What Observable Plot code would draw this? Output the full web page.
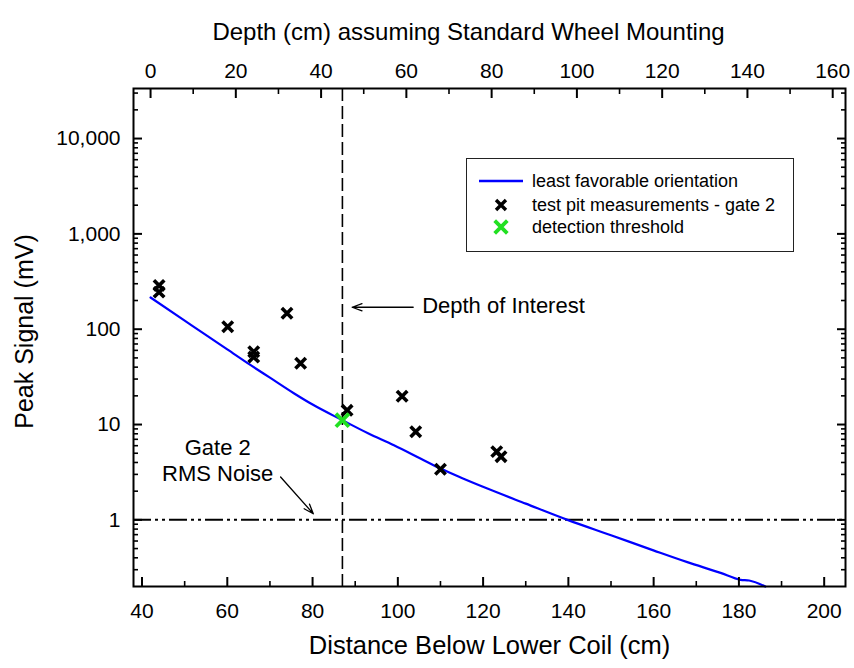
<!DOCTYPE html>
<html>
<head>
<meta charset="utf-8">
<script src="https://cdn.jsdelivr.net/npm/d3@7"></script>
<script src="https://cdn.jsdelivr.net/npm/@observablehq/plot@0.6"></script>
<style>
  body { margin: 0; background: #fff; }
  #wrap { position: relative; width: 854px; height: 668px; font-family: "Liberation Sans", Arial, Helvetica, sans-serif; }
  #legend { position: absolute; left: 466px; top: 158px; width: 328px; height: 94px; box-sizing: border-box; border: 1px solid #222; background: #fff; }
</style>
</head>
<body>
<div id="wrap"><div id="legend"></div></div>
<script>
// ---- data ----
const curveDistance = [42, 50, 55.3, 60, 65.4, 70, 75.6, 80, 87, 93, 99.1, 105.3, 110, 115, 121, 130, 139.8, 150, 160.1, 167.9, 175.7, 180.4, 182.4, 186.2];
const curveSignal   = [215, 123, 85, 61.4, 42.2, 31, 21.3, 16.2, 11.1, 8.1, 6.06, 4.4, 3.45, 2.75, 2.13, 1.48, 1.0, 0.69, 0.476, 0.36, 0.278, 0.235, 0.231, 0.2];

const pitDistance = [44, 44, 60.1, 66.2, 66.2, 74.0, 77.2, 88.1, 101.0, 104.2, 110.0, 123.2, 124.2];
const pitSignal   = [288, 245, 106, 58, 51, 147, 44, 14.1, 19.8, 8.4, 3.4, 5.2, 4.6];

const thresholdDistance = [87];
const thresholdSignal   = [11.1];

const depthOfInterest = [87];
const noiseLevel = [1];
const wheelOffset = 42;

const xMajorTicks = [40, 60, 80, 100, 120, 140, 160, 180, 200];
const xMinorTicks = [50, 70, 90, 110, 130, 150, 170, 190];
const depthMajorTicks = [0, 20, 40, 60, 80, 100, 120, 140, 160];
const depthMinorTicks = [10, 30, 50, 70, 90, 110, 130, 150];
const yMajorTicks = [1, 10, 100, 1000, 10000];
const yMinorTicks = [0.3, 0.4, 0.5, 0.6, 0.7, 0.8, 0.9,
  2, 3, 4, 5, 6, 7, 8, 9,
  20, 30, 40, 50, 60, 70, 80, 90,
  200, 300, 400, 500, 600, 700, 800, 900,
  2000, 3000, 4000, 5000, 6000, 7000, 8000, 9000,
  20000, 30000];

const legendLabels = ["least favorable orientation", "test pit measurements - gate 2", "detection threshold"];

// ---- build ----
const fontFamily = '"Liberation Sans", Arial, Helvetica, sans-serif';
const curve = curveDistance.map((d, i) => ({x: d, y: curveSignal[i]}));
const pits = pitDistance.map((d, i) => ({x: d, y: pitSignal[i]}));
const thr = thresholdDistance.map((d, i) => ({x: d, y: thresholdSignal[i]}));
const blue = "#0000ff";
const green = "#22e022";

const chart = Plot.plot({
  width: 854,
  height: 668,
  marginLeft: 133,
  marginRight: 9,
  marginTop: 88,
  marginBottom: 82,
  style: {fontFamily, fontSize: "21px", color: "#000", background: "transparent", overflow: "visible"},
  x: {type: "linear", domain: [38, 205]},
  y: {type: "log", domain: [0.2, 33500]},
  marks: [
    Plot.ruleX(depthOfInterest, {x: d => d, stroke: "#000", strokeWidth: 1.6, strokeDasharray: "13,5"}),
    Plot.ruleY(noiseLevel, {y: d => d, stroke: "#000", strokeWidth: 2, strokeDasharray: "18,4,3,4,3,4"}),
    Plot.line(curve, {x: "x", y: "y", stroke: blue, strokeWidth: 2.2, curve: "monotone-x"}),
    Plot.dot(pits, {x: "x", y: "y", symbol: "times", r: 4.8, stroke: "#000", strokeWidth: 3.6}),
    Plot.dot(thr, {x: "x", y: "y", symbol: "times", r: 6, stroke: green, strokeWidth: 3.8}),

    // annotations
    Plot.arrow([{x1: 103.6, y1: 170, x2: 89.3, y2: 170}], {x1: "x1", y1: "y1", x2: "x2", y2: "y2", stroke: "#000", strokeWidth: 1.3, headLength: 12, headAngle: 40}),
    Plot.text([{x: 105.7, y: 176, t: "Depth of Interest"}], {x: "x", y: "y", text: "t", textAnchor: "start", fontSize: 22}),
    Plot.text([{x: 57.75, y: 5.66, t: "Gate 2"}, {x: 57.75, y: 3.03, t: "RMS Noise"}], {x: "x", y: "y", text: "t", fontSize: 22}),
    Plot.arrow([{x1: 72.5, y1: 2.82, x2: 80.17, y2: 1.16}], {x1: "x1", y1: "y1", x2: "x2", y2: "y2", stroke: "#000", strokeWidth: 1.3, headLength: 12, headAngle: 40}),

    // bottom axis
    Plot.axisX(xMajorTicks, {anchor: "bottom", tickSize: 0, tickPadding: 17, fontSize: 21, label: null, tickFormat: d => String(d)}),
    Plot.axisX(xMajorTicks, {anchor: "bottom", tickSize: -9, fill: "none", strokeWidth: 2, label: null}),
    Plot.axisX(xMinorTicks, {anchor: "bottom", tickSize: -5, fill: "none", strokeWidth: 1.6, label: null}),
    // top axis (depth)
    Plot.axisX(depthMajorTicks.map(d => d + wheelOffset), {anchor: "top", tickSize: 0, tickPadding: 10.5, fontSize: 21, label: null, tickFormat: d => String(Math.round(d - wheelOffset))}),
    Plot.axisX(depthMajorTicks.map(d => d + wheelOffset), {anchor: "top", tickSize: -9, fill: "none", strokeWidth: 2, label: null}),
    Plot.axisX(depthMinorTicks.map(d => d + wheelOffset), {anchor: "top", tickSize: -5, fill: "none", strokeWidth: 1.6, label: null}),
    // left axis
    Plot.axisY(yMajorTicks, {anchor: "left", tickSize: 0, tickPadding: 13, fontSize: 21, label: null, tickFormat: d3.format(",")}),
    Plot.axisY(yMajorTicks, {anchor: "left", tickSize: -9, fill: "none", strokeWidth: 2, label: null}),
    Plot.axisY(yMinorTicks, {anchor: "left", tickSize: -5, fill: "none", strokeWidth: 1.6, label: null}),
    // right axis
    Plot.axisY(yMajorTicks, {anchor: "right", tickSize: -9, fill: "none", strokeWidth: 2, label: null}),
    Plot.axisY(yMinorTicks, {anchor: "right", tickSize: -5, fill: "none", strokeWidth: 1.6, label: null}),

    Plot.frame({stroke: "#000", strokeWidth: 2}),

    // axis titles
    Plot.text(["Distance Below Lower Coil (cm)"], {frameAnchor: "bottom", dy: 67, fontSize: 25.5, textAnchor: "middle", text: d => d}),
    Plot.text(["Depth (cm) assuming Standard Wheel Mounting"], {frameAnchor: "top", dx: -21, dy: -66, fontSize: 24, textAnchor: "middle", text: d => d}),
    Plot.text(["Peak Signal (mV)"], {frameAnchor: "left", dx: -109, dy: -6, rotate: -90, fontSize: 25, textAnchor: "middle", text: d => d})
  ]
});

const wrap = document.getElementById("wrap");
chart.style.position = "absolute";
chart.style.left = "0";
chart.style.top = "0";
wrap.insertBefore(chart, wrap.firstChild);

// ---- legend ----
const lg = d3.select("#legend").append("svg")
  .attr("width", 326).attr("height", 92)
  .style("position", "absolute").style("left", "0").style("top", "0");
const rows = [22, 46, 68];
lg.append("line").attr("x1", 12).attr("x2", 56).attr("y1", rows[0]).attr("y2", rows[0])
  .attr("stroke", blue).attr("stroke-width", 2.4);
lg.append("path").attr("d", d3.symbol(d3.symbolTimes, Math.PI * 4.6 * 4.6)())
  .attr("transform", `translate(34,${rows[1]})`).attr("stroke", "#000").attr("stroke-width", 3.4).attr("fill", "none");
lg.append("path").attr("d", d3.symbol(d3.symbolTimes, Math.PI * 5.8 * 5.8)())
  .attr("transform", `translate(34,${rows[2]})`).attr("stroke", green).attr("stroke-width", 3.8).attr("fill", "none");
legendLabels.forEach((t, i) => {
  lg.append("text").attr("x", 65).attr("y", rows[i]).attr("dy", "0.35em")
    .attr("font-family", fontFamily).attr("font-size", 18).attr("fill", "#000").text(t);
});
</script>
</body>
</html>
